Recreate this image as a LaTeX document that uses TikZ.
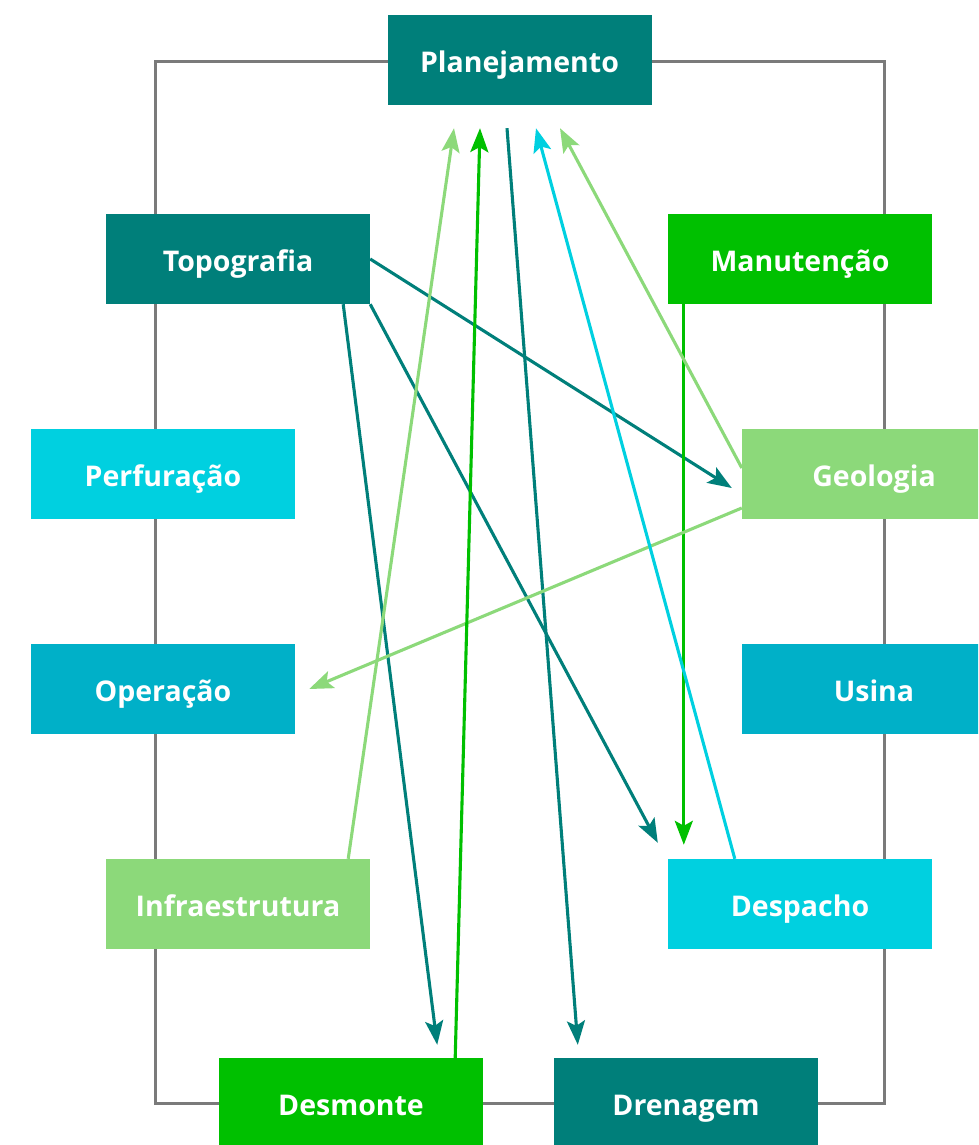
\documentclass[tikz,border=0pt]{standalone}
\usepackage{fontspec}
\setmainfont{Open Sans}
\usetikzlibrary{arrows.meta}
\definecolor{teal}{HTML}{007F7A}
\definecolor{vgreen}{HTML}{00C000}
\definecolor{cyanb}{HTML}{00D0E0}
\definecolor{blueb}{HTML}{00B0C8}
\definecolor{lgreen}{HTML}{8CD97A}
\definecolor{frame}{HTML}{7A7A7A}
\tikzset{
  box/.style={minimum width=264pt, minimum height=90pt, inner sep=0pt, text=white,
    text height=25.4pt, text depth=0pt,
    font=\fontsize{28.5}{32}\selectfont\bfseries},
  conn/.style={line width=3.1pt, -{Stealth[length=24pt,width=18pt,inset=5pt]}},
}
\begin{document}
\begin{tikzpicture}[x=1pt,y=-1pt]
\useasboundingbox (0,0) rectangle (978,1145);
\clip (0,0) rectangle (978,1145);
\draw[frame, line width=3pt] (155,62) rectangle (884,1103);
\node[box, fill=teal] (plan) at (519.5,60) {Planejamento};
\node[box, fill=teal] (topo) at (238,259) {Topografia};
\node[box, fill=vgreen] (manu) at (800,259) {Manutenção};
\node[box, fill=cyanb] (perf) at (163,474) {Perfuração};
\node[box, fill=lgreen] (geo) at (874,474) {Geologia};
\node[box, fill=blueb] (oper) at (163,689) {Operação};
\node[box, fill=blueb] (usina) at (874,689) {Usina};
\node[box, fill=lgreen] (infra) at (238,904) {Infraestrutura};
\node[box, fill=cyanb] (desp) at (800,904) {Despacho};
\node[box, fill=vgreen] (desm) at (351,1103) {Desmonte};
\node[box, fill=teal] (dren) at (686,1103) {Drenagem};
% arrows
\draw[conn, teal] (topo.east) -- ([xshift=-10pt,yshift=-14pt]geo.west);
\draw[conn, teal] (topo.south east) -- ([xshift=-10pt,yshift=16pt]desp.north west);
\draw[conn, teal] ([xshift=-27pt]topo.south east) -- ([xshift=-46pt,yshift=13pt]desm.north east);
\draw[conn, teal] ([xshift=-12.5pt,yshift=-23pt]plan.south) -- ([xshift=24pt,yshift=13pt]dren.north west);
\draw[conn, vgreen] ([xshift=16pt]manu.south west) -- ([xshift=16pt,yshift=14pt]desp.north west);
\draw[conn, lgreen] ([yshift=-34pt]geo.west) -- ([xshift=14pt]oper.east);
\draw[conn, lgreen] ([yshift=6pt]geo.west) -- ([xshift=40.5pt,yshift=-23pt]plan.south);
\draw[conn, cyanb] ([xshift=67pt]desp.north west) -- ([xshift=16.5pt,yshift=-23pt]plan.south);
\draw[conn, lgreen] ([xshift=-22pt]infra.north east) -- ([xshift=-65.5pt,yshift=-23pt]plan.south);
\draw[conn, vgreen] ([xshift=-28pt]desm.north east) -- ([xshift=-39.5pt,yshift=-23pt]plan.south);
\end{tikzpicture}
\end{document}
